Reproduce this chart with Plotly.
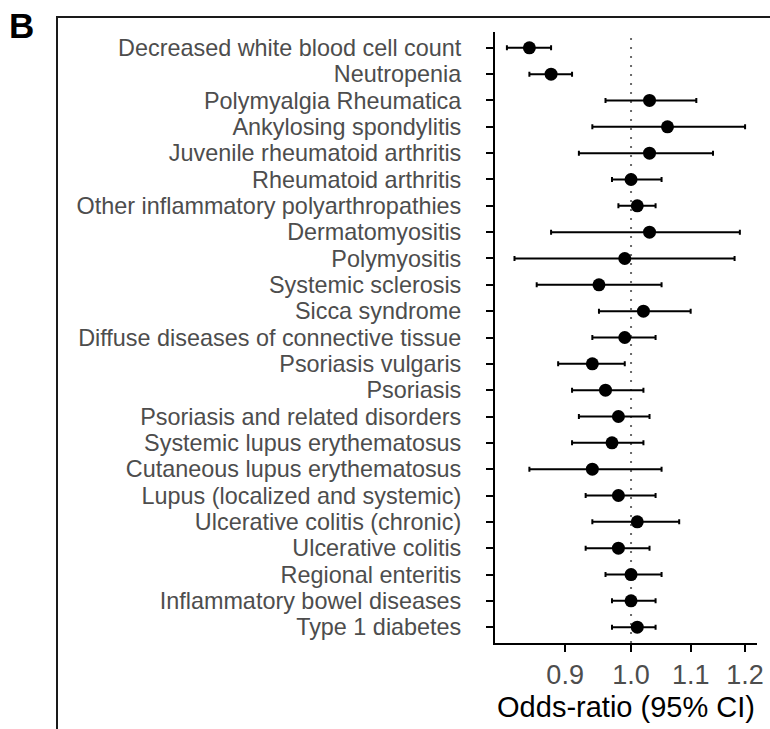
import numpy as np
import plotly.graph_objects as go

# Outcomes, top to bottom
outcomes = [
    "Decreased white blood cell count",
    "Neutropenia",
    "Polymyalgia Rheumatica",
    "Ankylosing spondylitis",
    "Juvenile rheumatoid arthritis",
    "Rheumatoid arthritis",
    "Other inflammatory polyarthropathies",
    "Dermatomyositis",
    "Polymyositis",
    "Systemic sclerosis",
    "Sicca syndrome",
    "Diffuse diseases of connective tissue",
    "Psoriasis vulgaris",
    "Psoriasis",
    "Psoriasis and related disorders",
    "Systemic lupus erythematosus",
    "Cutaneous lupus erythematosus",
    "Lupus (localized and systemic)",
    "Ulcerative colitis (chronic)",
    "Ulcerative colitis",
    "Regional enteritis",
    "Inflammatory bowel diseases",
    "Type 1 diabetes",
]
odds_ratio = [0.85, 0.88, 1.03, 1.06, 1.03, 1.00, 1.01, 1.03, 0.99, 0.95, 1.02, 0.99,
              0.94, 0.96, 0.98, 0.97, 0.94, 0.98, 1.01, 0.98, 1.00, 1.00, 1.01]
ci_low = [0.82, 0.85, 0.96, 0.94, 0.92, 0.97, 0.98, 0.88, 0.83, 0.86, 0.95, 0.94,
          0.89, 0.91, 0.92, 0.91, 0.85, 0.93, 0.94, 0.93, 0.96, 0.97, 0.97]
ci_high = [0.88, 0.91, 1.11, 1.20, 1.14, 1.05, 1.04, 1.19, 1.18, 1.05, 1.10, 1.04,
           0.99, 1.02, 1.03, 1.02, 1.05, 1.04, 1.08, 1.03, 1.05, 1.04, 1.04]
x_ticks = [0.9, 1.0, 1.1, 1.2]
x_tick_labels = ["0.9", "1.0", "1.1", "1.2"]

or_arr = np.array(odds_ratio)
lo_arr = np.array(ci_low)
hi_arr = np.array(ci_high)

# log-scale range with 5% padding on each side
lmin, lmax = np.log10(lo_arr.min()), np.log10(hi_arr.max())
pad = 0.05 * (lmax - lmin)
x_range = [lmin - pad, lmax + pad]

FONT = "Liberation Sans, Arial, sans-serif"

fig = go.Figure()

# reference line at OR = 1
fig.add_shape(type="line", xref="x", yref="paper", x0=1.0, x1=1.0, y0=0, y1=1,
              line=dict(color="#6a6a6a", width=2, dash="2px,7px"), layer="below")

fig.add_trace(go.Scatter(
    x=odds_ratio, y=outcomes, mode="markers",
    marker=dict(color="black", size=13),
    error_x=dict(type="data", symmetric=False,
                 array=list(hi_arr - or_arr), arrayminus=list(or_arr - lo_arr),
                 color="black", thickness=2, width=2.5),
    showlegend=False,
))

# panel frame (left and top edges)
L, R, T, B = 495, 757, 32, 643
W, H = R - L, B - T
px = lambda v: (v - L) / W
py = lambda v: (B - v) / H
fig.add_shape(type="line", xref="paper", yref="paper",
              x0=px(57), x1=px(57), y0=py(16), y1=py(740),
              line=dict(color="#1a1a1a", width=2))
fig.add_shape(type="line", xref="paper", yref="paper",
              x0=px(56), x1=px(790), y0=py(17), y1=py(17),
              line=dict(color="#1a1a1a", width=2))

fig.add_annotation(text="<b>B</b>", xref="paper", yref="paper",
                   x=px(21), y=py(26), showarrow=False,
                   font=dict(family=FONT, size=35, color="black"),
                   xanchor="center", yanchor="middle")

fig.update_layout(
    width=770, height=729,
    margin=dict(l=L, r=770 - R, t=T, b=729 - B, autoexpand=False),
    paper_bgcolor="white", plot_bgcolor="white",
    font=dict(family=FONT),
    xaxis=dict(
        type="log", range=x_range, automargin=False,
        tickvals=x_ticks, ticktext=x_tick_labels,
        showline=True, linecolor="black", linewidth=2,
        ticks="outside", ticklen=7, tickwidth=1.5, tickcolor="black",
        tickfont=dict(size=27, color="#4d4d4d"),
        showgrid=False, zeroline=False,
        title=dict(text="Odds-ratio (95% CI)", font=dict(size=29, color="black"), standoff=7),
    ),
    yaxis=dict(
        type="category", categoryorder="array", categoryarray=outcomes,
        tickmode="array", tickvals=outcomes, ticktext=outcomes,
        range=[len(outcomes) - 0.4, -0.6], automargin=False,
        showline=True, linecolor="black", linewidth=2,
        ticks="outside", ticklen=7, tickwidth=1.5, tickcolor="black",
        tickfont=dict(size=23.4, color="#4d4d4d"),
        ticklabelstandoff=20,
        showgrid=False, zeroline=False,
    ),
)

fig.write_html("out.html")
